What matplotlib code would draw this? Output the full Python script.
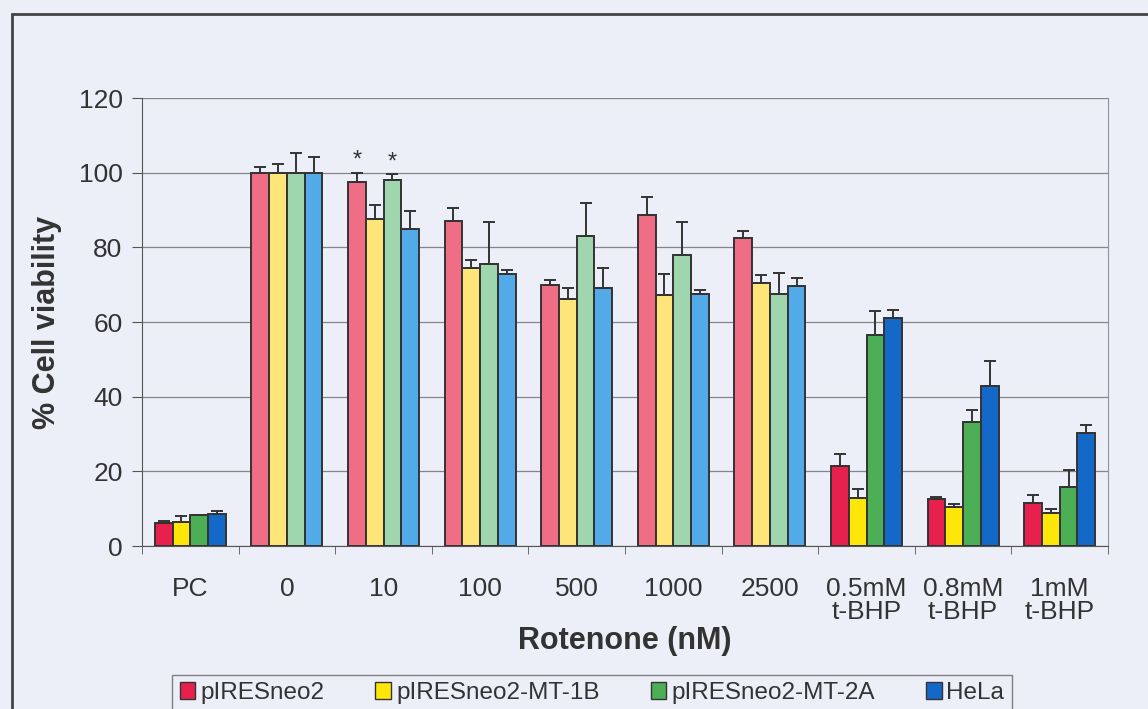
import numpy as np
import matplotlib
matplotlib.use('Agg')
import matplotlib.pyplot as plt
from matplotlib.patches import Rectangle, Patch

plt.rcParams['font.family'] = ['Liberation Sans', 'DejaVu Sans']

categories = ['PC', '0', '10', '100', '500', '1000', '2500',
              '0.5mM\nt-BHP', '0.8mM\nt-BHP', '1mM\nt-BHP']
series = ['pIRESneo2', 'pIRESneo2-MT-1B', 'pIRESneo2-MT-2A', 'HeLa']

mt0 = [6.2, 100, 97.4, 87.1, 69.9, 88.7, 82.4, 21.5, 12.6, 11.6]
mt1b = [6.5, 100, 87.6, 74.4, 66.2, 67.2, 70.4, 12.8, 10.4, 8.8]
mt2a = [8.3, 100, 98.0, 75.5, 83.0, 77.9, 67.6, 56.5, 33.1, 15.9]
hela = [8.5, 100, 85.0, 72.9, 69.2, 67.5, 69.6, 61.2, 42.9, 30.4]

err_mt0 = [0.6, 1.6, 2.6, 3.4, 1.4, 4.7, 2.0, 3.1, 0.4, 2.1]
err_mt1b = [1.5, 2.3, 3.7, 2.2, 2.8, 5.7, 2.3, 2.4, 0.8, 1.0]
err_mt2a = [0.0, 5.2, 1.6, 11.3, 8.8, 9.0, 5.6, 6.5, 3.2, 4.5]
err_hela = [1.0, 4.1, 4.6, 1.0, 5.2, 1.1, 2.2, 2.0, 6.7, 2.0]

# groups with significant difference marks (group, series)
stars = [(2, 0), (2, 2)]

values = [mt0, mt1b, mt2a, hela]
errors = [err_mt0, err_mt1b, err_mt2a, err_hela]

bright = ['#e8204e', '#ffe60a', '#4caf55', '#1469c8']
pale = ['#ef6e86', '#fde57a', '#9fd6ae', '#52aae8']
bg = '#eceef8'
txt = '#333333'

fig = plt.figure(figsize=(11.48, 7.09), dpi=100, facecolor=bg)
ax = fig.add_axes([142/1148, 1-546/709, 966/1148, 448/709], facecolor=bg)

x = np.arange(len(categories))
w = 0.184
for i in range(4):
    cols = [bright[i] if (c == 0 or c >= 7) else pale[i] for c in range(len(categories))]
    pos = x + (i - 1.5) * w
    ax.bar(pos, values[i], w, color=cols, edgecolor='#333333', linewidth=1.4, zorder=3)
    ax.errorbar(pos, values[i], yerr=[np.zeros(len(x)), errors[i]], fmt='none',
                ecolor='#333333', elinewidth=1.4, capsize=4, capthick=1.4, zorder=4)

for g, s in stars:
    ax.text(g + (s - 1.5) * w, values[s][g] + errors[s][g] + 0.3, '*',
            ha='center', va='bottom', fontsize=17, color=txt)

ax.set_xlim(-0.5, len(categories) - 0.5)
ax.set_ylim(0, 120)
ax.set_yticks(range(0, 121, 20))
ax.yaxis.grid(True, color='#858585', linewidth=0.9, zorder=0)
ax.set_xticks(x)
ax.set_xticklabels(categories, fontsize=19, color=txt, linespacing=0.95)
ax.set_xticks(np.arange(-0.5, len(categories)), minor=True)
ax.tick_params(axis='x', which='major', length=0, pad=22)
ax.tick_params(axis='x', which='minor', length=6, color='#555555')
ax.tick_params(axis='y', length=7, color='#555555', labelsize=19, labelcolor=txt, pad=7)
for side in ['left', 'bottom']:
    ax.spines[side].set_color('#555555')
ax.spines['right'].set_color('#9090a0')
ax.spines['top'].set_visible(False)

ax.set_ylabel('% Cell viability', fontsize=22, fontweight='bold', color=txt, labelpad=12)
ax.set_xlabel('Rotenone (nM)', fontsize=22, fontweight='bold', color=txt, labelpad=2)

handles = [Patch(facecolor=bright[i], edgecolor='#333333', linewidth=1.0) for i in range(4)]
leg = fig.legend(handles, series, loc='center', bbox_to_anchor=(592/1148, 1-693/709),
                 ncol=4, fontsize=17.5, frameon=True, fancybox=False, edgecolor='#666666',
                 facecolor=bg, handlelength=0.65, handleheight=0.65, handletextpad=0.2,
                 columnspacing=2.1, borderpad=0.3, labelcolor=txt)
leg.get_frame().set_linewidth(1.0)

fig.patches.append(Rectangle((12/1148, -0.1), 1.2, 1 - 14/709 + 0.1, transform=fig.transFigure,
                             fill=False, edgecolor='#444444', linewidth=2.0))

fig.savefig('out.png', dpi=100, facecolor=bg)
